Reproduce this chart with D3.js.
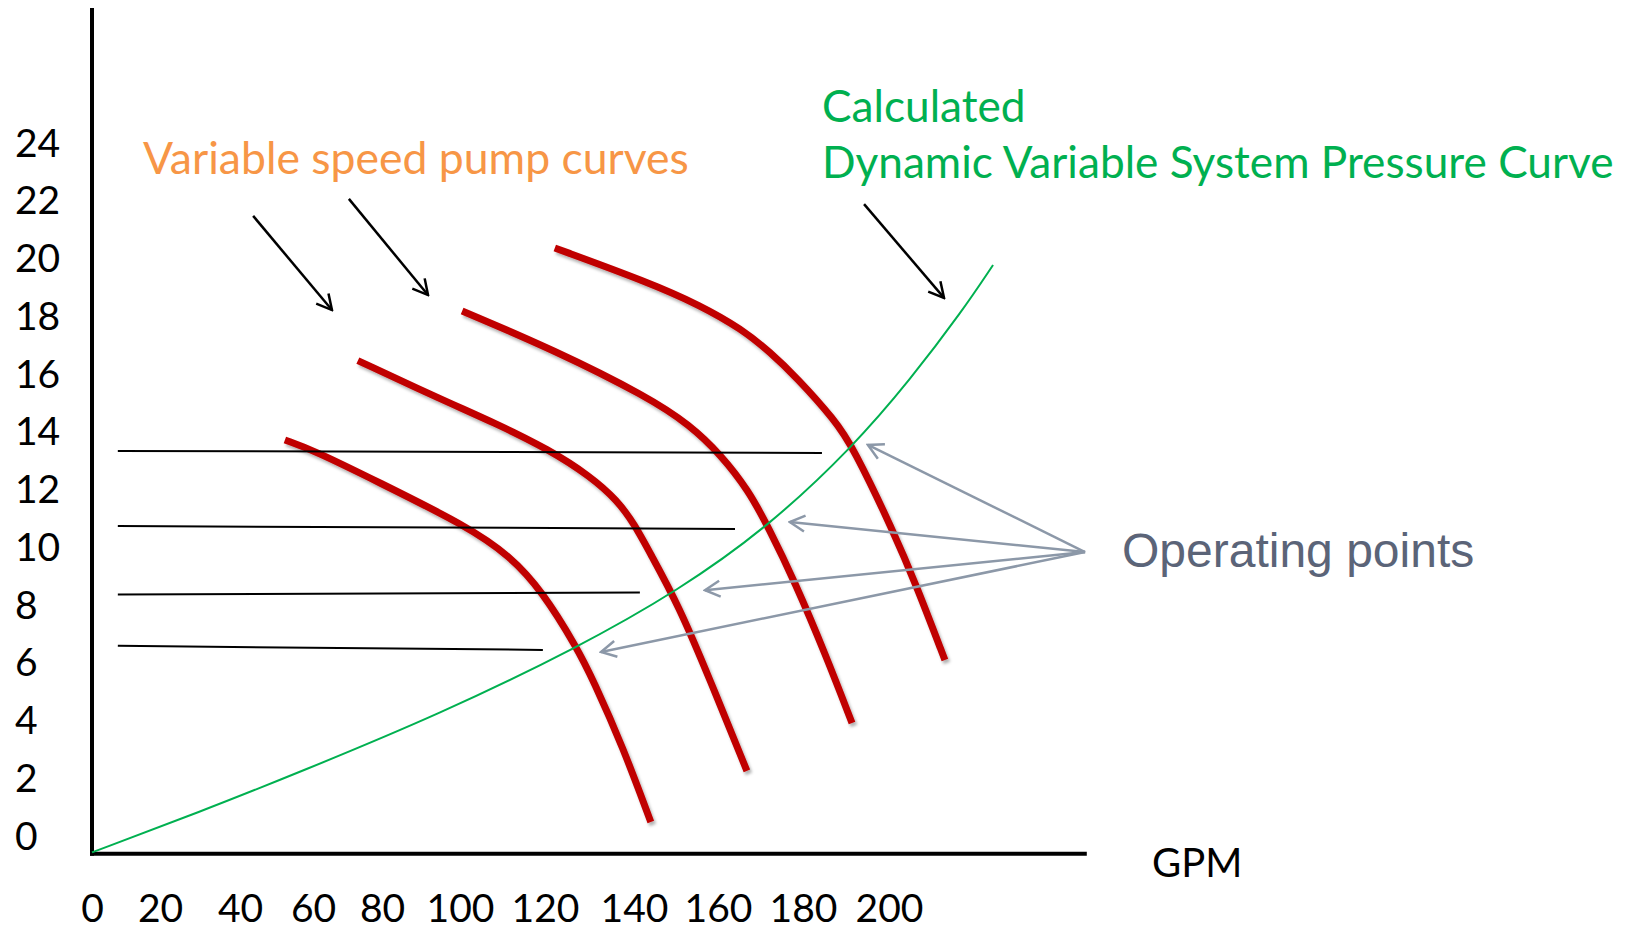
<!DOCTYPE html>
<html lang="en">
<head>
<meta charset="utf-8">
<title>Variable speed pump curves</title>
<script src="https://cdnjs.cloudflare.com/ajax/libs/d3/7.8.5/d3.min.js"></script>
<style>
  body { margin: 0; background: #fff; }
  .tick text { font-family: Lato, sans-serif; font-size: 39px; fill: #000; }
  .axisline { stroke: #000; stroke-width: 4px; }
  .pump { fill: none; stroke: #C00000; stroke-width: 7px; }
  .system { fill: none; stroke: #00B050; stroke-width: 2px; }
  .opline { stroke: #000; stroke-width: 2px; }
  .note { stroke: #000; stroke-width: 2.5px; }
  .oparrow { stroke: #8C98A8; stroke-width: 2.5px; }
  .label { font-family: Lato, sans-serif; font-size: 44.5px; }
</style>
</head>
<body>
<div id="chart"></div>
<script>
// tick labels
var xTicks = [0, 20, 40, 60, 80, 100, 120, 140, 160, 180, 200];
var yTicks = [0, 2, 4, 6, 8, 10, 12, 14, 16, 18, 20, 22, 24];
var yMin = -0.65, yTop = 28.64, xEnd = 246;

// pump curves, [gpm, head], lowest speed first
var pump1 = [[52.3, 13.68], [60.6, 13.3], [78.3, 12.26], [101.6, 10.7], [111.8, 9.66], [119.3, 8.45],
             [127.2, 6.48], [130.8, 5.37], [137.5, 3.05], [144.0, 0.45]];
var pump2 = [[73.0, 16.43], [95.6, 15.06], [108.2, 14.27], [121.1, 13.33], [130.1, 12.43], [136.2, 11.6],
             [140.2, 10.74], [143.8, 9.77], [150.7, 7.93], [158.1, 5.37], [166.8, 2.22]];
var pump3 = [[100.5, 18.15], [122.0, 16.8], [143.3, 15.17], [153.3, 14.2], [160.7, 13.16], [167.1, 11.95],
             [171.8, 10.67], [178.1, 8.76], [185.3, 6.23], [191.4, 3.88]];
var pump4 = [[122.2, 20.33], [143.3, 19.15], [155.7, 18.35], [165.6, 17.52], [172.2, 16.73], [178.6, 15.83],
             [187.4, 14.37], [191.6, 13.44], [200.9, 10.56], [206.5, 8.59], [213.0, 6.06]];

// system pressure curve
var systemCurve = [[0, -0.6], [30.0, 0.8], [56.4, 2.18], [94.9, 4.19], [127.2, 6.48], [150.7, 8.48],
                   [171.8, 10.67], [191.6, 13.44], [204.9, 15.76], [217.2, 18.18], [224.2, 19.74]];

// horizontal lines at the operating heads
var opLineStart = 7.6;
var opLineEnd = [184.4, 164.0, 141.4, 119.5];
var opHeadStart = [13.3, 10.7, 8.33, 6.55];
var opHeadEnd = [13.23, 10.6, 8.4, 6.41];

// operating points and where the label arrows start
var opPoints = [[195.1, 13.51], [176.9, 10.84], [156.9, 8.48], [132.6, 6.34]];
var opLabelAt = [245.6, 9.8];

// black pointer arrows
var noteArrows = [
  [[43.6, 21.44], [65.5, 18.18]],
  [[70.4, 22.03], [91.8, 18.7]],
  [[194.2, 21.85], [212.8, 18.6]]
];

var W = 1633, H = 929;

var svg = d3.select("#chart").append("svg")
  .attr("width", W)
  .attr("height", H);

var defs = svg.append("defs");
var f = defs.append("filter").attr("id", "shadow")
  .attr("x", "-10%").attr("y", "-10%").attr("width", "130%").attr("height", "130%");
f.append("feDropShadow").attr("dx", 2).attr("dy", 3).attr("stdDeviation", 1.5)
  .attr("flood-color", "#000").attr("flood-opacity", 0.3);

function head(id, color) {
  defs.append("marker")
    .attr("id", id)
    .attr("viewBox", "-18 -11 20 22")
    .attr("refX", 0).attr("refY", 0)
    .attr("markerUnits", "userSpaceOnUse")
    .attr("markerWidth", 20).attr("markerHeight", 22)
    .attr("orient", "auto")
    .append("path")
    .attr("d", "M-15,-8L0,0L-15,8")
    .attr("fill", "none")
    .attr("stroke", color)
    .attr("stroke-width", 2.5);
}
head("blackhead", "#000");
head("grayhead", "#8C98A8");

// x labels are spaced unevenly on the slide, so the scale is piecewise
var x = d3.scaleLinear()
  .domain(xTicks)
  .range([92, 160, 240, 313, 382, 460, 545, 634, 718, 803, 889]);
var y = d3.scaleLinear().domain([0, 24]).range([835, 142]);

// axes
var yAxis = svg.append("g")
  .attr("transform", "translate(" + x(0) + ",0)")
  .call(d3.axisLeft(y).tickValues(yTicks).tickSize(0).tickPadding(0));
yAxis.select(".domain").remove();
yAxis.selectAll(".tick text")
  .attr("x", 15 - x(0))
  .attr("dy", "0.36em")
  .attr("text-anchor", "start");

var xAxis = svg.append("g")
  .attr("transform", "translate(0," + y(yMin) + ")")
  .call(d3.axisBottom(x).tickValues(xTicks).tickSize(0));
xAxis.select(".domain").remove();
xAxis.selectAll(".tick text")
  .attr("y", 922 - y(yMin))
  .attr("dy", 0);

svg.append("line").attr("class", "axisline")
  .attr("x1", x(0)).attr("x2", x(0))
  .attr("y1", y(yTop)).attr("y2", y(yMin) + 2);
svg.append("line").attr("class", "axisline")
  .attr("x1", x(0) - 2).attr("x2", x(xEnd))
  .attr("y1", y(yMin)).attr("y2", y(yMin));

// hand drawn curves: smooth through the read points
var line = d3.line()
  .x(function(d) { return x(d[0]); })
  .y(function(d) { return y(d[1]); })
  .curve(d3.curveBasis);

// pump curves
svg.selectAll(".pump")
  .data([pump1, pump2, pump3, pump4])
  .enter().append("path")
  .attr("class", "pump")
  .attr("filter", "url(#shadow)")
  .attr("d", line);

// operating head lines
svg.selectAll(".opline")
  .data(opLineEnd)
  .enter().append("line")
  .attr("class", "opline")
  .attr("x1", x(opLineStart))
  .attr("x2", function(d) { return x(d); })
  .attr("y1", function(d, i) { return y(opHeadStart[i]); })
  .attr("y2", function(d, i) { return y(opHeadEnd[i]); });

// system curve
svg.append("path")
  .datum(systemCurve)
  .attr("class", "system")
  .attr("d", line);

// arrows to operating points
svg.selectAll(".oparrow")
  .data(opPoints)
  .enter().append("line")
  .attr("class", "oparrow")
  .attr("x1", x(opLabelAt[0]))
  .attr("y1", y(opLabelAt[1]))
  .attr("x2", function(d) { return x(d[0]); })
  .attr("y2", function(d) { return y(d[1]); })
  .attr("marker-end", "url(#grayhead)");

svg.selectAll(".note")
  .data(noteArrows)
  .enter().append("line")
  .attr("class", "note")
  .attr("x1", function(d) { return x(d[0][0]); })
  .attr("y1", function(d) { return y(d[0][1]); })
  .attr("x2", function(d) { return x(d[1][0]); })
  .attr("y2", function(d) { return y(d[1][1]); })
  .attr("marker-end", "url(#blackhead)");

// text
svg.append("text").attr("class", "label")
  .attr("x", 143).attr("y", 174)
  .attr("fill", "#F79646")
  .text("Variable speed pump curves");
svg.append("text").attr("class", "label")
  .attr("x", 822).attr("y", 122)
  .style("font-size", "44.2px")
  .attr("fill", "#00B050")
  .text("Calculated");
svg.append("text").attr("class", "label")
  .attr("x", 822).attr("y", 178)
  .style("font-size", "44.2px")
  .attr("fill", "#00B050")
  .text("Dynamic Variable System Pressure Curve");
svg.append("text")
  .attr("x", 1122).attr("y", 567)
  .attr("font-family", "'Liberation Sans', Arial, sans-serif")
  .attr("font-size", 48)
  .attr("fill", "#5B6478")
  .text("Operating points");
svg.append("text")
  .attr("x", 1152).attr("y", 877)
  .attr("font-family", "Lato, sans-serif")
  .attr("font-size", 40)
  .attr("fill", "#000")
  .text("GPM");
</script>
</body>
</html>
